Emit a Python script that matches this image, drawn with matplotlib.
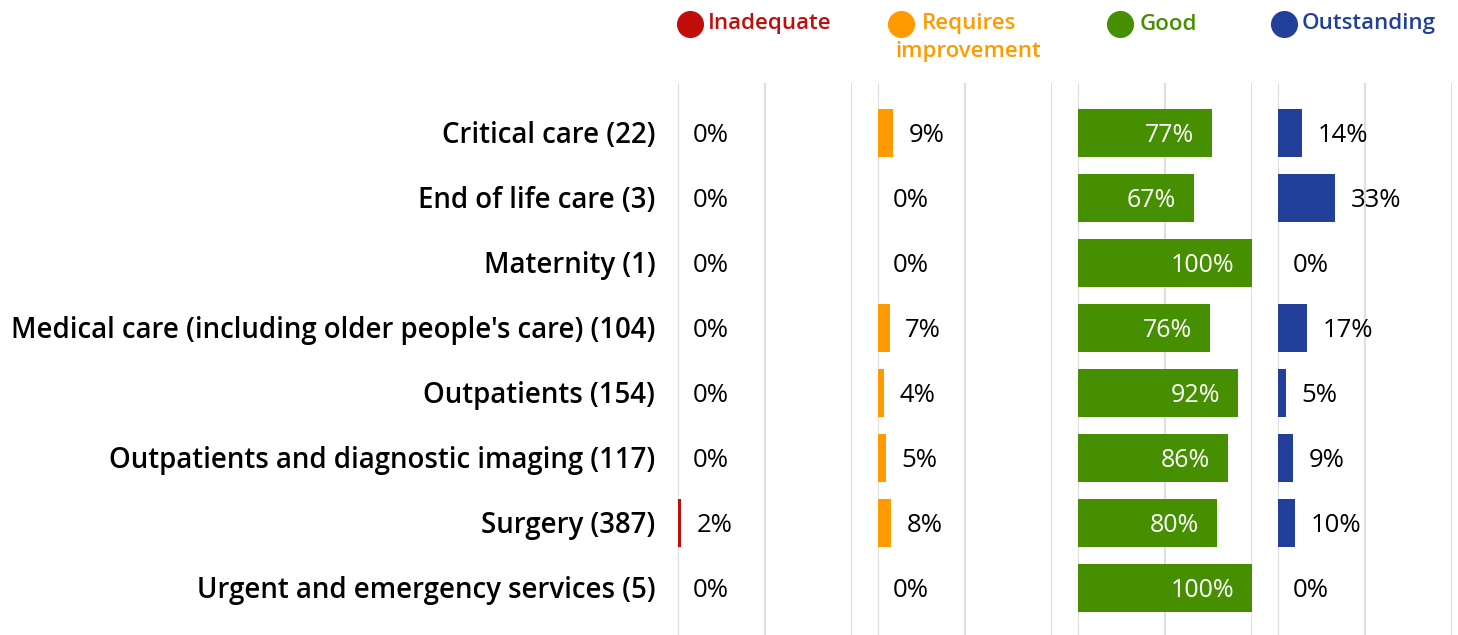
import matplotlib.pyplot as plt
from matplotlib.lines import Line2D

plt.rcParams['font.family'] = ['Open Sans', 'DejaVu Sans']

categories = ["Critical care (22)", "End of life care (3)", "Maternity (1)",
              "Medical care (including older people's care) (104)",
              "Outpatients (154)", "Outpatients and diagnostic imaging (117)",
              "Surgery (387)", "Urgent and emergency services (5)"]
ratings = ["Inadequate", "Requires\nimprovement", "Good", "Outstanding"]
inadequate = [0, 0, 0, 0, 0, 0, 2, 0]
requires_improvement = [9, 0, 0, 7, 4, 5, 8, 0]
good = [77, 67, 100, 76, 92, 86, 80, 100]
outstanding = [14, 33, 0, 17, 5, 9, 10, 0]

series = [inadequate, requires_improvement, good, outstanding]
colours = ['#C00F0B', '#FF9B00', '#458F00', '#22409A']

W, H = 1458, 635
fig = plt.figure(figsize=(W / 100, H / 100), dpi=100)

def px_axes(x0, y0, w, h):
    # pixel box (top-left origin) -> figure fraction axes
    return fig.add_axes([x0 / W, 1 - (y0 + h) / H, w / W, h / H])

n = len(categories)
ypos = list(range(n))
axes = []
for k, (vals, col) in enumerate(zip(series, colours)):
    ax = px_axes(677.5 + 200 * k, 83, 174.5, 552)
    ax.set_xlim(0, 100)
    ax.set_ylim(7.72, -0.77)
    for g in (0, 50, 100):
        ax.axvline(g, color='#DEDEDE', lw=1.5, zorder=0)
    ax.barh(ypos, vals, height=0.74, color=col, zorder=2)
    for y, v in zip(ypos, vals):
        if k == 2:
            ax.annotate(f"{v}%", (v, y), xytext=(-13, -1.5), textcoords='offset points',
                        ha='right', va='center', fontsize=18, color='white', zorder=3)
        else:
            ax.annotate(f"{v}%", (v, y), xytext=(11, -1.5), textcoords='offset points',
                        ha='left', va='center', fontsize=18.5, color='black', zorder=3)
    ax.axis('off')
    axes.append(ax)

# category labels to the left of the first panel
for y, c in zip(ypos, categories):
    axes[0].annotate(c, (0, y), xytext=(-16, -1.5), textcoords='offset points',
                     ha='right', va='center', fontsize=19.9, fontweight='semibold',
                     color='black', annotation_clip=False)

# legend row across the top
leg_marker_x = [690, 901, 1120, 1284]
leg_text_x = [708, 895, 1140, 1302]
for mx, tx, lab, col in zip(leg_marker_x, leg_text_x, ratings, colours):
    fig.add_artist(Line2D([mx / W], [1 - 24 / H], marker='o', markersize=18.5,
                          color=col, linestyle='none'))
    if '\n' in lab:
        first, second = lab.split('\n')
        fig.text(922 / W, 1 - 24 / H, first, ha='left', va='center',
                 fontsize=16, fontweight='semibold', color=col)
        fig.text(tx / W, 1 - 51 / H, second, ha='left', va='center',
                 fontsize=16, fontweight='semibold', color=col)
    else:
        fig.text(tx / W, 1 - 24 / H, lab, ha='left', va='center',
                 fontsize=16, fontweight='semibold', color=col)

fig.savefig('out.png', dpi=100)
